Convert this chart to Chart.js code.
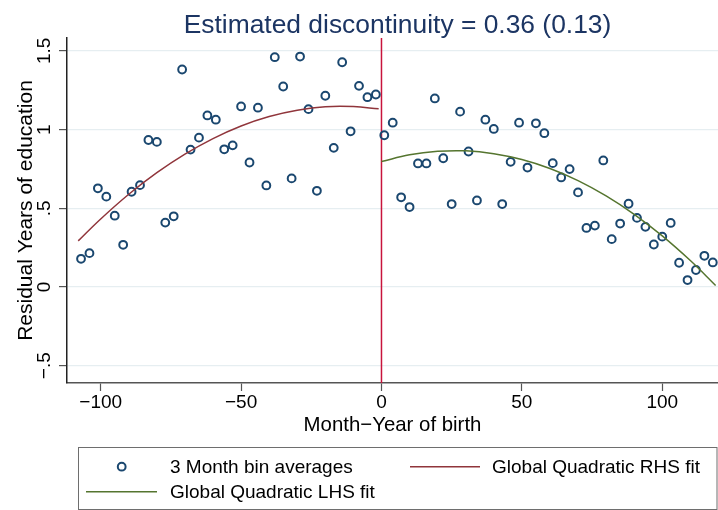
<!DOCTYPE html>
<html>
<head>
<meta charset="utf-8">
<title>Estimated discontinuity</title>
<script src="https://cdn.jsdelivr.net/npm/chart.js@4.4.0/dist/chart.umd.min.js"></script>
<style>
  html, body { margin: 0; padding: 0; background: #fff; }
  #wrap { width: 718px; height: 510px; }
</style>
</head>
<body>
<div id="wrap"><canvas id="rdChart" width="718" height="510"></canvas></div>
<script>
// 3-month bin averages, left of the cutoff
const leftBinX = [-107, -104, -101, -98, -95, -92, -89, -86, -83, -80, -77, -74,
  -71, -68, -65, -62, -59, -56, -53, -50, -47, -44, -41, -38, -35, -32, -29, -26,
  -23, -20, -17, -14, -11, -8, -5, -2];
const leftBinY = [0.179, 0.215, 0.627, 0.574, 0.453, 0.268, 0.605, 0.647, 0.934, 0.922,
  0.409, 0.449, 1.382, 0.873, 0.949, 1.090, 1.063, 0.875, 0.900, 1.147, 0.791, 1.139,
  0.645, 1.460, 1.274, 0.690, 1.464, 1.130, 0.611, 1.215, 0.884, 1.428, 0.989, 1.278,
  1.206, 1.223];

// 3-month bin averages, right of the cutoff
const rightBinX = [1, 4, 7, 10, 13, 16, 19, 22, 25, 28, 31, 34, 37, 40, 43, 46, 49, 52,
  55, 58, 61, 64, 67, 70, 73, 76, 79, 82, 85, 88, 91, 94, 97, 100, 103, 106, 109, 112,
  115, 118];
const rightBinY = [0.964, 1.044, 0.570, 0.508, 0.785, 0.785, 1.198, 0.818, 0.527, 1.114,
  0.861, 0.550, 1.063, 1.004, 0.527, 0.795, 1.044, 0.759, 1.040, 0.977, 0.787, 0.696,
  0.749, 0.601, 0.375, 0.390, 0.804, 0.304, 0.403, 0.529, 0.439, 0.382, 0.270, 0.320,
  0.407, 0.154, 0.044, 0.108, 0.198, 0.156];

// fitted curves
const rhsFitX = [-108, -100, -90, -80, -70, -60, -50, -40, -30, -20, -10, -1];
const rhsFitY = [0.293, 0.432, 0.589, 0.726, 0.844, 0.943, 1.023, 1.083, 1.123, 1.145, 1.146, 1.132];
const lhsFitX = [0, 10, 20, 30, 40, 50, 60, 70, 80, 90, 100, 110, 119];
const lhsFitY = [0.797, 0.840, 0.862, 0.865, 0.847, 0.810, 0.753, 0.676, 0.579, 0.462, 0.325, 0.168, 0.010];

const cutoffX = 0;

// axes
const xTickValues = [-100, -50, 0, 50, 100];
const xTickLabels = ["\u2212100", "\u221250", "0", "50", "100"];
const yTickValues = [-0.5, 0, 0.5, 1, 1.5];
const yTickLabels = ["\u2212.5", "0", ".5", "1", "1.5"];
const xMin = -112, xMax = 119.85;
const yMin = -0.61, yMax = 1.582;

const FONT = "'Liberation Sans', Arial, Helvetica, sans-serif";
const NAVY = "#1a476f";
const MAROON = "#90353b";
const GREEN = "#55752f";
const CUTOFF_RED = "#c8143c";

function toPoints(xs, ys) {
  return xs.map((x, i) => ({ x: x, y: ys[i] }));
}

const binPoints = toPoints(leftBinX, leftBinY).concat(toPoints(rightBinX, rightBinY));

// title + Stata style legend box drawn on the canvas
const titleAndLegend = {
  id: "titleAndLegend",
  afterDraw(chart) {
    const ctx = chart.ctx;
    ctx.save();

    ctx.fillStyle = "#1c3563";
    ctx.font = `26.4px ${FONT}`;
    ctx.textAlign = "center";
    ctx.textBaseline = "alphabetic";
    ctx.fillText("Estimated discontinuity = 0.36 (0.13)", 397.5, 32.7);

    // legend frame
    ctx.strokeStyle = "#6e6e6e";
    ctx.lineWidth = 1;
    ctx.strokeRect(78.5, 447.5, 638.5, 62);

    const ds = chart.data.datasets;
    ctx.font = `19px ${FONT}`;
    ctx.fillStyle = "#000";
    ctx.textAlign = "left";

    // bins
    ctx.beginPath();
    ctx.arc(121.7, 466.7, 3.9, 0, Math.PI * 2);
    ctx.strokeStyle = NAVY;
    ctx.lineWidth = 2;
    ctx.stroke();
    ctx.fillText(ds[2].label, 170, 473.2);

    // RHS fit
    ctx.beginPath();
    ctx.moveTo(410, 466.7);
    ctx.lineTo(480, 466.7);
    ctx.strokeStyle = MAROON;
    ctx.lineWidth = 1.5;
    ctx.stroke();
    ctx.fillText(ds[0].label, 492, 473.2);

    // LHS fit
    ctx.beginPath();
    ctx.moveTo(86, 491.7);
    ctx.lineTo(157, 491.7);
    ctx.strokeStyle = GREEN;
    ctx.stroke();
    ctx.fillText(ds[1].label, 170, 498.3);

    ctx.restore();
  }
};

Chart.defaults.font.family = FONT;
Chart.defaults.color = "#000";

const ctx = document.getElementById("rdChart").getContext("2d");
const rdChart = new Chart(ctx, {
  type: "scatter",
  data: {
    datasets: [
      {
        label: "Global Quadratic RHS fit",
        data: toPoints(rhsFitX, rhsFitY),
        showLine: true,
        borderColor: MAROON,
        borderWidth: 1.5,
        pointRadius: 0,
        tension: 0.4
      },
      {
        label: "Global Quadratic LHS fit",
        data: toPoints(lhsFitX, lhsFitY),
        showLine: true,
        borderColor: GREEN,
        borderWidth: 1.5,
        pointRadius: 0,
        tension: 0.4
      },
      {
        label: "3 Month bin averages",
        data: binPoints,
        pointRadius: 3.9,
        pointBorderWidth: 2,
        pointBorderColor: NAVY,
        pointBackgroundColor: "rgba(255,255,255,0)"
      },
      {
        label: "cutoff",
        data: [{ x: cutoffX, y: yMin }, { x: cutoffX, y: yMax }],
        showLine: true,
        borderColor: CUTOFF_RED,
        borderWidth: 1.5,
        pointRadius: 0
      }
    ]
  },
  plugins: [titleAndLegend],
  options: {
    responsive: false,
    animation: false,
    events: [],
    layout: { autoPadding: false, padding: { top: 38, left: 0, right: 0, bottom: 70 } },
    plugins: {
      legend: { display: false },
      title: { display: false },
      tooltip: { enabled: false }
    },
    scales: {
      x: {
        type: "linear",
        min: xMin,
        max: xMax,
        afterBuildTicks: (s) => { s.ticks = xTickValues.map((v) => ({ value: v })); },
        afterFit: (s) => {
          s.height = 57;
          s.paddingLeft = 0;
          s.paddingRight = 0;
        },
        ticks: {
          autoSkip: false,
          maxRotation: 0,
          padding: 0,
          color: "#000",
          font: { size: 19 },
          callback: (v) => xTickLabels[xTickValues.indexOf(v)]
        },
        grid: { drawOnChartArea: false, tickLength: 8, tickColor: "#555", tickWidth: 1.2 },
        border: { color: "#555", width: 1.5 },
        title: {
          display: true,
          text: "Month\u2212Year of birth",
          font: { size: 20.4 },
          color: "#000",
          padding: { top: 0, bottom: 2.3 }
        }
      },
      y: {
        type: "linear",
        min: yMin,
        max: yMax,
        afterBuildTicks: (s) => { s.ticks = yTickValues.map((v) => ({ value: v })); },
        afterFit: (s) => {
          s.width = 67;
          s.paddingTop = 0;
          s.paddingBottom = 0;
        },
        ticks: {
          autoSkip: false,
          minRotation: 90,
          maxRotation: 90,
          crossAlign: "center",
          padding: 0.5,
          color: "#000",
          font: { size: 19 },
          callback: (v) => yTickLabels[yTickValues.indexOf(v)]
        },
        grid: { color: "#e6eef1", lineWidth: 1.2, tickLength: 8, tickColor: "#555", tickWidth: 1.2 },
        border: { color: "#222", width: 1.5 },
        title: {
          display: true,
          text: "Residual Years of education",
          font: { size: 21 },
          color: "#000",
          padding: { top: 13.4, bottom: 0 }
        }
      }
    }
  }
});
</script>
</body>
</html>
